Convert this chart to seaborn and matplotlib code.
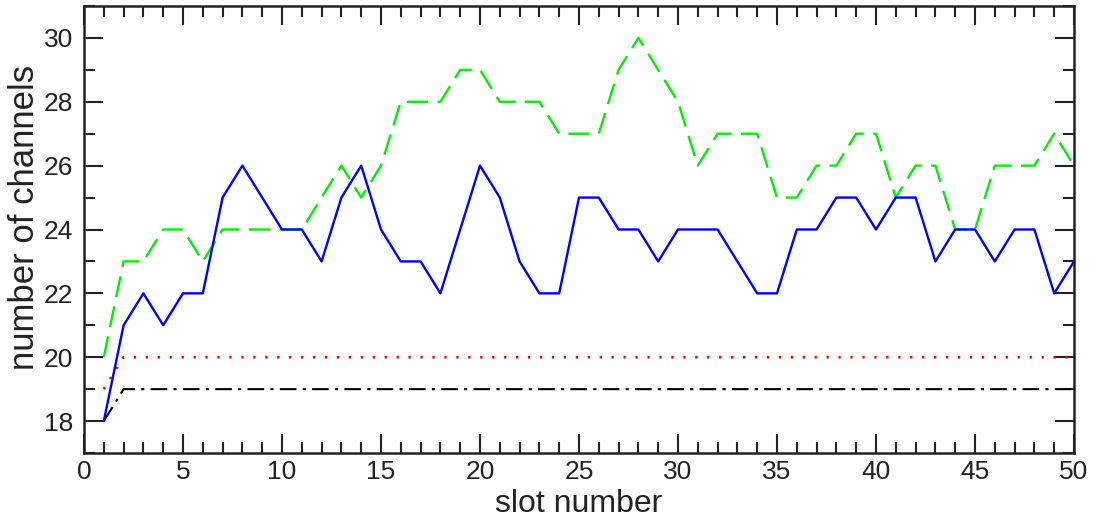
import numpy as np
import pandas as pd
import matplotlib
matplotlib.use("Agg")
import matplotlib.pyplot as plt
import seaborn as sns
from matplotlib.ticker import MultipleLocator

slots = list(range(1, 51))
blue_vals = [18, 21, 22, 21, 22, 22, 25, 26, 25, 24,
             24, 23, 25, 26, 24, 23, 23, 22, 24, 26,
             25, 23, 22, 22, 25, 25, 24, 24, 23, 24,
             24, 24, 23, 22, 22, 24, 24, 25, 25, 24,
             25, 25, 23, 24, 24, 23, 24, 24, 22, 23]
green_vals = [20, 23, 23, 24, 24, 23, 24, 24, 24, 24,
              24, 25, 26, 25, 26, 28, 28, 28, 29, 29,
              28, 28, 28, 27, 27, 27, 29, 30, 29, 28,
              26, 27, 27, 27, 25, 25, 26, 26, 27, 27,
              25, 26, 26, 24, 24, 26, 26, 26, 27, 26]
red_vals = [19] + [20] * 49
black_vals = [18] + [19] * 49

x_ticks = [0, 5, 10, 15, 20, 25, 30, 35, 40, 45, 50]
y_ticks = [18, 20, 22, 24, 26, 28, 30]

sns.set_style("ticks")
plt.rcParams['font.family'] = ['Liberation Sans', 'DejaVu Sans']

fig = plt.figure(figsize=(10.98, 5.22), dpi=100)
ax = fig.add_axes([84/1098, 1 - 453/522, (1074-84)/1098, (453-6)/522])

df = pd.DataFrame({"slot": slots, "blue": blue_vals, "green": green_vals,
                   "red": red_vals, "black": black_vals})

sns.lineplot(data=df, x="slot", y="black", ax=ax, color="black", lw=1.5)
sns.lineplot(data=df, x="slot", y="red", ax=ax, color="#ff0000", lw=2.0)
sns.lineplot(data=df, x="slot", y="green", ax=ax, color="#00ee00", lw=1.7)
sns.lineplot(data=df, x="slot", y="blue", ax=ax, color="#0000ff", lw=1.7)

lines = ax.get_lines()
lines[0].set_dashes((8, 3, 1.5, 3))
lines[1].set_dashes((0.8, 3.5))
lines[2].set_dashes((9, 4))

ax.set_xlim(0, 50)
ax.set_ylim(17, 31)
ax.set_xticks(x_ticks)
ax.set_yticks(y_ticks)
ax.xaxis.set_minor_locator(MultipleLocator(1))
ax.yaxis.set_minor_locator(MultipleLocator(1))
ax.tick_params(which="major", direction="in", length=14, width=1.5,
               top=True, right=True, labelsize=19, color="#222222")
ax.tick_params(axis="x", which="major", pad=5)
ax.tick_params(axis="y", which="major", pad=8)
ax.tick_params(which="minor", direction="in", length=8, width=1.5,
               top=True, right=True, color="#222222")
for s in ax.spines.values():
    s.set_linewidth(1.8)
    s.set_color("#222222")
ax.set_xlabel("slot number", fontsize=23, color="#222222")
ax.set_ylabel("number of channels", fontsize=25, color="#222222")
ax.xaxis.set_label_coords(0.5, (453 - 489) / 447)
ax.yaxis.set_label_coords((25 - 84) / 990, (453 - 217) / 447)
ax.yaxis.label.set_va('center')
ax.tick_params(labelcolor="#222222")

fig.savefig("out.png", dpi=100)
